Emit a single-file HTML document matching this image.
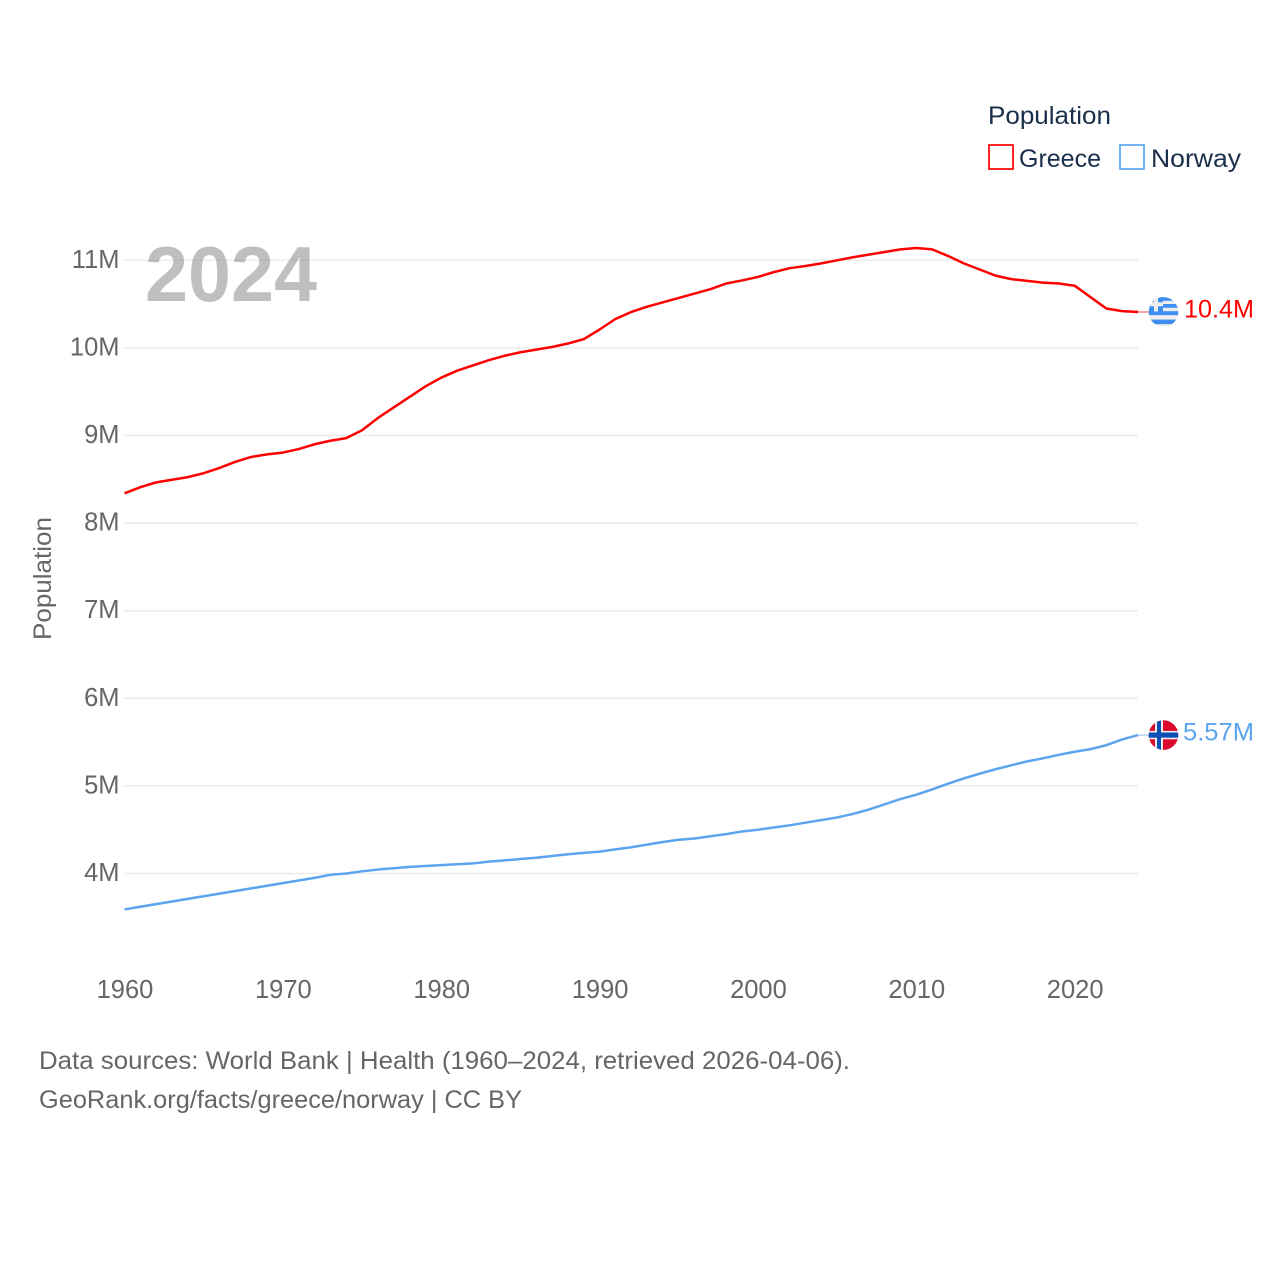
<!DOCTYPE html>
<html lang="en">
<head>
<meta charset="utf-8">
<title>Population: Greece and Norway</title>
<style>
html,body{margin:0;padding:0;background:#fff}
svg{display:block;font-family:"Liberation Sans",sans-serif}
</style>
</head>
<body>
<svg id="chart" xmlns="http://www.w3.org/2000/svg" width="1280" height="1280" viewBox="0 0 1280 1280">
  <defs>
    <clipPath id="flag-clip"><circle cx="0" cy="0" r="14.8"/></clipPath>
  </defs>
  <g id="grid"></g>
  <g id="yticks"></g>
  <g id="xticks"></g>
  <text transform="translate(51,640) rotate(-90)" font-size="25" fill="#666" textLength="123" lengthAdjust="spacingAndGlyphs">Population</text>
  <text x="145" y="301" font-size="78" font-weight="700" fill="#808080" fill-opacity="0.5" textLength="172" lengthAdjust="spacingAndGlyphs">2024</text>

  <g>
    <text x="988" y="124" font-size="25" fill="#1a2f4b" textLength="123" lengthAdjust="spacingAndGlyphs">Population</text>
    <g>
      <rect x="989" y="145" width="24" height="24" fill="#fff" stroke="#ff0000" stroke-width="1.7"/>
      <text x="1019" y="167" font-size="25" fill="#1a2f4b" textLength="82" lengthAdjust="spacingAndGlyphs">Greece</text>
    </g>
    <g>
      <rect x="1120" y="145" width="24" height="24" fill="#fff" stroke="#5ba4ee" stroke-width="1.7"/>
      <text x="1151" y="167" font-size="25" fill="#1a2f4b" textLength="90" lengthAdjust="spacingAndGlyphs">Norway</text>
    </g>
  </g>

  <g id="series"></g>

  <g id="flag-greece">
    <g clip-path="url(#flag-clip)">
      <rect x="-15" y="-15" width="30" height="30" fill="#eeeeee"/>
      <rect x="-15" y="-15" width="30" height="3.8" fill="#3f8ff0"/>
      <rect x="-15" y="-8" width="30" height="3.8" fill="#3f8ff0"/>
      <rect x="-15" y="-0.8" width="30" height="4" fill="#3f8ff0"/>
      <rect x="-15" y="7.6" width="30" height="4.6" fill="#3f8ff0"/>
      <rect x="-15" y="-15" width="14.5" height="14.5" fill="#3f8ff0"/>
      <rect x="-9.5" y="-15" width="4" height="14.5" fill="#eeeeee"/>
      <rect x="-15" y="-9.7" width="14.5" height="4" fill="#eeeeee"/>
    </g>
  </g>
  <g id="flag-norway">
    <g clip-path="url(#flag-clip)">
      <rect x="-15" y="-15" width="30" height="30" fill="#dc0a2d"/>
      <rect x="-8.5" y="-15" width="8" height="30" fill="#eeeeee"/>
      <rect x="-15" y="-4.2" width="30" height="8.4" fill="#eeeeee"/>
      <rect x="-6.5" y="-15" width="4" height="30" fill="#0f4fb5"/>
      <rect x="-15" y="-2.6" width="30" height="5.2" fill="#0f4fb5"/>
    </g>
  </g>
  <text id="end-greece" x="1184" font-size="25" fill="#ff0000" textLength="70" lengthAdjust="spacingAndGlyphs"></text>
  <text id="end-norway" x="1183" font-size="25" fill="#5ba4ee" textLength="71" lengthAdjust="spacingAndGlyphs"></text>

  <g>
    <text x="39" y="1069" font-size="25" fill="#666" textLength="811" lengthAdjust="spacingAndGlyphs">Data sources: World Bank | Health (1960–2024, retrieved 2026-04-06).</text>
    <text x="39" y="1108" font-size="25" fill="#666" textLength="483" lengthAdjust="spacingAndGlyphs">GeoRank.org/facts/greece/norway | CC BY</text>
  </g>
</svg>
<script>
const years = [1960,1961,1962,1963,1964,1965,1966,1967,1968,1969,1970,1971,1972,1973,1974,1975,1976,1977,1978,1979,1980,1981,1982,1983,1984,1985,1986,1987,1988,1989,1990,1991,1992,1993,1994,1995,1996,1997,1998,1999,2000,2001,2002,2003,2004,2005,2006,2007,2008,2009,2010,2011,2012,2013,2014,2015,2016,2017,2018,2019,2020,2021,2022,2023,2024];
const greeceValues = [8.34,8.41,8.465,8.495,8.525,8.57,8.63,8.70,8.755,8.785,8.805,8.845,8.90,8.94,8.97,9.06,9.20,9.32,9.44,9.56,9.66,9.74,9.80,9.86,9.91,9.95,9.98,10.01,10.05,10.10,10.21,10.33,10.41,10.47,10.52,10.57,10.62,10.67,10.735,10.77,10.81,10.865,10.91,10.935,10.965,11.0,11.035,11.065,11.095,11.125,11.14,11.125,11.05,10.965,10.895,10.825,10.785,10.765,10.745,10.735,10.71,10.58,10.45,10.42,10.41];
const norwayValues = [3.59,3.62,3.65,3.68,3.71,3.74,3.77,3.80,3.83,3.86,3.89,3.92,3.95,3.985,4.00,4.025,4.045,4.06,4.075,4.085,4.095,4.105,4.115,4.135,4.15,4.165,4.18,4.20,4.22,4.235,4.25,4.275,4.30,4.33,4.36,4.385,4.40,4.425,4.45,4.48,4.50,4.525,4.55,4.58,4.61,4.64,4.68,4.73,4.79,4.85,4.90,4.96,5.025,5.085,5.14,5.19,5.235,5.28,5.315,5.355,5.39,5.42,5.465,5.53,5.58];
const yTickValues = [4,5,6,7,8,9,10,11];
const yTickLabels = ["4M","5M","6M","7M","8M","9M","10M","11M"];
const xTickValues = [1960,1970,1980,1990,2000,2010,2020];
const endLabels = ["10.4M","5.57M"];

const NS = "http://www.w3.org/2000/svg";
function xScale(year){ return 124.5 + (year - 1960) * (1138 - 124.5) / 64; }
function yScale(v){ return 873.5 - (v - 4) * 87.6; }
function make(tag, attrs, parent){
  const el = document.createElementNS(NS, tag);
  for (const k in attrs) el.setAttribute(k, attrs[k]);
  parent.appendChild(el);
  return el;
}
const grid = document.getElementById("grid");
const yticks = document.getElementById("yticks");
const xticks = document.getElementById("xticks");
const series = document.getElementById("series");

yTickValues.forEach(function(v, i){
  const line = make("line", {x1:124, x2:1138, y1:yScale(v), y2:yScale(v), stroke:"#ececec", "stroke-width":1.5}, grid);
  
  
  const t = make("text", {x:119.5, y:yScale(v)+7.5, "text-anchor":"end", "font-size":25.5, fill:"#666"}, yticks);
  
  
  t.textContent = yTickLabels[i];
});
xTickValues.forEach(function(y){
  const t = make("text", {x:xScale(y)+0.5, y:998, "text-anchor":"middle", "font-size":25.5, fill:"#666"}, xticks);
  
  
  t.textContent = String(y);
});
function pathFor(values){
  return values.map(function(v, i){ return (i ? "L" : "M") + xScale(years[i]).toFixed(2) + " " + yScale(v).toFixed(2); }).join("");
}
const greeceLine = make("path", {d:pathFor(greeceValues), fill:"none", stroke:"#ff0000", "stroke-width":2.5, "stroke-linejoin":"round"}, series);


const norwayLine = make("path", {d:pathFor(norwayValues), fill:"none", stroke:"#5ba4ee", "stroke-width":2.5, "stroke-linejoin":"round"}, series);



function placeEnd(values, flagId, labelId, text, color){
  const last = values[values.length - 1];
  const yy = yScale(last);
  const x0 = xScale(years[years.length - 1]);
  const lead = make("line", {x1:x0, x2:1149, y1:yy, y2:yy, stroke:color, "stroke-width":1, opacity:0.7}, series);
  
  
  document.getElementById(flagId).setAttribute("transform", "translate(1163.5," + yy + ")");
  const label = document.getElementById(labelId);
  label.setAttribute("y", yy + 5.5);
  label.textContent = text;
}
placeEnd(greeceValues, "flag-greece", "end-greece", endLabels[0], "#ff0000");
placeEnd(norwayValues, "flag-norway", "end-norway", endLabels[1], "#5ba4ee");
</script>
</body>
</html>
